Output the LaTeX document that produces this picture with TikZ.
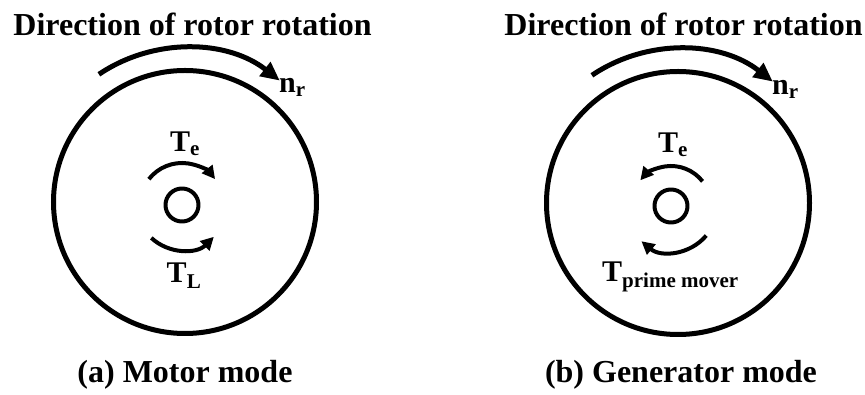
\documentclass[tikz,border=0pt]{standalone}
\usepackage{fontspec}
\setmainfont{Liberation Serif}
\usetikzlibrary{arrows.meta}
\begin{document}
\begin{tikzpicture}[x=10pt, y=10pt, font=\bfseries, line join=round,
		rotor/.style={draw, circle, line width=5pt, minimum size=263pt, inner sep=0pt},
		shaft/.style={draw, circle, line width=4pt, minimum size=33pt, inner sep=0pt},
		speed/.style={line width=5pt, -{Triangle[length=19pt,width=17pt]}},
		torque/.style={line width=4pt, -{Triangle[length=13pt,width=13pt]}},
		heading/.style={font=\fontsize{32}{38}\selectfont\bfseries, anchor=base},
		lbl/.style={font=\fontsize{30}{36}\selectfont\bfseries, inner sep=0pt}]
	\useasboundingbox (-18.5,-19.3) rectangle (68.0,20.2);
	
	% (a) motor mode
	\node[rotor] (rotorA) at (0,0) {};
	\node[shaft] (shaftA) at (-0.3,-0.3) {};
	\node[heading] (titleA) at (0.75,16.6) {Direction of rotor rotation};
	\draw[speed] ([shift={(124:15.4)}]rotorA.center) arc (124:52:15.4);
	\node[lbl, anchor=base west] (nrA) at (9.4,10.9) {n\textsubscript{r}};
	\draw[torque] ([shift={(142:4.2)}]shaftA.center) arc (142:38:4.2);
	\draw[torque] ([shift={(-133:4.5)}]shaftA.center) arc (-133:-45:4.5);
	\node[lbl, anchor=base] (teA) at (0,5.0) {T\textsubscript{e}};
	\node[lbl, anchor=base] (tlA) at (-0.1,-8.1) {T\textsubscript{L}};
	\node[heading] (capA) at (0,-18.1) {(a) Motor mode};
	
	% (b) generator mode
	\begin{scope}[shift={(49.3,0)}]
		\node[rotor] (rotorB) at (0,-0.1) {};
		\node[shaft] (shaftB) at (-0.7,-0.4) {};
		\node[heading] (titleB) at (0.55,16.6) {Direction of rotor rotation};
		\draw[speed] ([shift={(124:15.4)}]rotorB.center) arc (124:52:15.4);
		\node[lbl, anchor=base west] (nrB) at (9.4,10.7) {n\textsubscript{r}};
		\draw[torque] ([shift={(38:4.0)}]shaftB.center) arc (38:140:4.0);
		\draw[torque] ([shift={(-40:4.6)}]shaftB.center) arc (-40:-130:4.6);
		\node[lbl, anchor=base] (teB) at (-0.5,4.9) {T\textsubscript{e}};
		\node[lbl, anchor=base west] (tpB) at (-7.6,-8.0) {T\textsubscript{prime mover}};
		\node[heading] (capB) at (0.3,-18.1) {(b) Generator mode};
	\end{scope}
	
\end{tikzpicture}
\end{document}
